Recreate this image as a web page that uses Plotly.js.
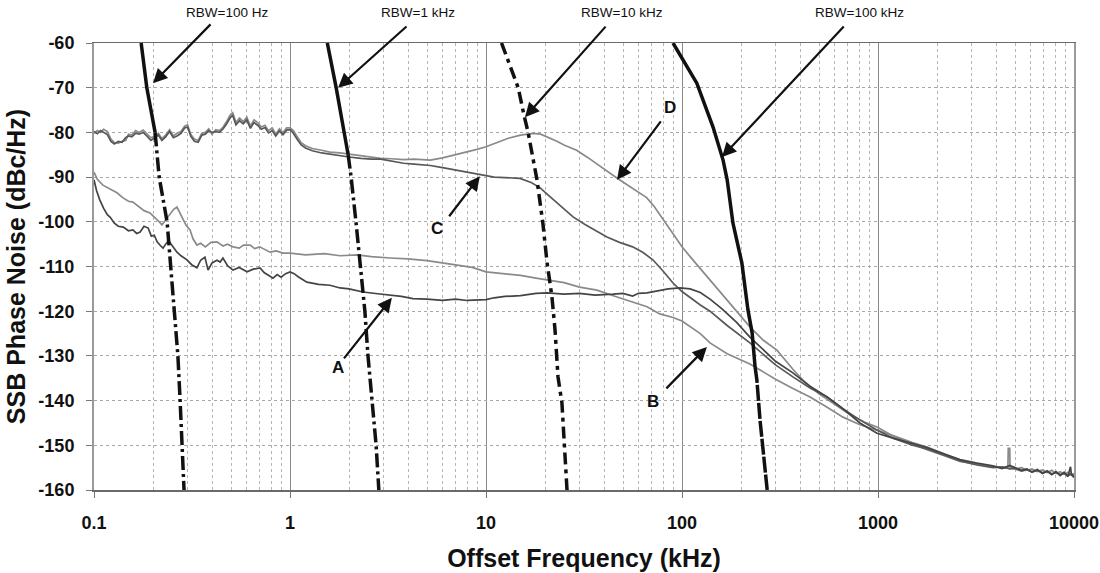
<!DOCTYPE html>
<html>
<head>
<meta charset="utf-8">
<script src="https://cdn.plot.ly/plotly-3.0.1.min.js"></script>
<style>html,body{margin:0;padding:0;background:#fff;}#chart{width:1100px;height:573px;}</style>
</head>
<body>
<div id="chart"></div>
<script>
// ---------- Data (offset frequency in kHz, SSB phase noise in dBc/Hz) ----------
const xTickVals = [0.1, 1, 10, 100, 1000, 10000];
const xTickText = ['0.1', '1', '10', '100', '1000', '10000'];
const yTickVals = [-160, -150, -140, -130, -120, -110, -100, -90, -80, -70, -60];
const yTickText = ['-160', '-150', '-140', '-130', '-120', '-110', '-100', '-90', '-80', '-70', '-60'];

const curveA_x = [0.1,0.103,0.107,0.112,0.117,0.121,0.127,0.133,0.141,0.150,0.158,0.165,0.172,0.180,0.189,0.196,0.203,0.210,0.218,0.225,0.232,0.240,0.253,0.265,0.278,0.298,0.315,0.335,0.350,0.368,0.382,0.400,0.424,0.440,0.455,0.480,0.512,0.550,0.604,0.650,0.703,0.740,0.780,0.819,0.860,0.900,0.950,1.0,1.05,1.1,1.22,1.4,1.6,1.8,2.0,2.36,2.8,3.24,3.7,4.24,5,6,7,8,9.31,10,11,12.5,15,18,20.5,25,30,36,44.5,50,56,60,66.3,75,85,97.7,110,124,139,160,190,222,260,300,368,450,550,650,809,988,1193,1500,1778,2200,2620,3200,3860,4300,4700,5000,5400,5750,6100,6500,6900,7300,7700,8100,8500,8900,9300,9600,9700,10000];
const curveA_y = [-90.6,-93.0,-95.1,-97.0,-98.4,-99.0,-100.3,-101.0,-101.2,-102.0,-101.8,-102.6,-102.3,-101.0,-101.4,-103.2,-103.0,-104.5,-105.3,-105.9,-105.0,-104.2,-105.6,-106.8,-107.6,-108.5,-109.6,-110.3,-108.6,-107.9,-110.8,-109.2,-108.6,-109.0,-108.1,-109.8,-110.8,-110.2,-111.2,-110.6,-110.3,-111.4,-112.0,-112.6,-111.8,-112.4,-111.6,-111.2,-111.6,-112.3,-113.5,-114.0,-114.2,-114.8,-115.0,-115.7,-116.1,-116.4,-116.7,-117.2,-117.3,-117.6,-117.3,-117.6,-117.5,-117.4,-117.0,-116.7,-116.5,-116.0,-115.9,-116.2,-116.0,-116.4,-116.2,-116.0,-116.6,-116.0,-115.9,-115.5,-115.0,-114.8,-115.0,-115.8,-117.3,-119.5,-122.5,-125.8,-128.6,-131.2,-133.8,-136.8,-139.2,-141.5,-145.0,-147.3,-148.4,-149.6,-150.5,-152.0,-153.2,-154.0,-154.6,-155.2,-154.5,-155.0,-155.6,-155.3,-156.0,-155.4,-156.3,-155.8,-156.6,-155.9,-156.8,-156.0,-157.0,-154.8,-156.6,-157.2];

const curveB_x = [0.1,0.104,0.111,0.118,0.125,0.131,0.140,0.150,0.158,0.170,0.180,0.193,0.205,0.215,0.222,0.230,0.240,0.255,0.265,0.278,0.295,0.309,0.320,0.335,0.350,0.370,0.395,0.424,0.455,0.480,0.512,0.55,0.58,0.626,0.66,0.70,0.75,0.791,0.85,0.92,1.0,1.2,1.5,1.8,2.2,2.6,3.24,4,5,6,7,8.5,10,12,15,18,20.5,25,30,36.8,45,55,66.3,77,90,100,124,139,170,222,250,300,368,450,550,663,809,988,1193,1500,1778,2200,2620,3200,3860,4300,4700,5000,5400,5750,6100,6500,6900,7300,7700,8100,8500,8900,9300,9700,10000];
const curveB_y = [-88.9,-90.5,-91.8,-92.4,-93.0,-93.5,-94.6,-95.4,-95.6,-96.6,-97.5,-98.0,-99.0,-100.0,-100.7,-99.8,-98.5,-97.2,-96.7,-98.5,-100.8,-101.8,-103.8,-105.2,-104.8,-105.6,-104.6,-104.5,-105.4,-105.0,-105.6,-105.9,-105.2,-105.2,-106.0,-105.6,-106.3,-106.8,-106.5,-107.0,-107.0,-107.4,-107.1,-107.6,-107.4,-107.8,-108.1,-108.3,-108.7,-109.2,-109.6,-110.2,-111.2,-111.6,-112.0,-112.6,-113.0,-113.6,-114.6,-115.3,-116.6,-117.8,-119.0,-120.6,-121.4,-122.2,-125.0,-127.1,-129.5,-131.8,-133.2,-135.2,-137.3,-139.2,-141.5,-143.7,-145.4,-146.6,-147.8,-149.4,-150.4,-152.0,-153.3,-154.3,-154.8,-155.0,-154.7,-155.3,-155.8,-155.5,-155.9,-155.6,-156.1,-155.7,-156.4,-156.0,-156.5,-156.2,-156.7,-156.3,-157.0];

const curveC_x = [0.1,0.104,0.108,0.112,0.117,0.122,0.127,0.133,0.139,0.145,0.150,0.156,0.163,0.170,0.178,0.186,0.195,0.204,0.213,0.222,0.232,0.243,0.254,0.265,0.278,0.290,0.300,0.312,0.325,0.340,0.355,0.370,0.385,0.400,0.418,0.437,0.456,0.476,0.497,0.510,0.530,0.553,0.577,0.602,0.628,0.655,0.684,0.714,0.745,0.777,0.811,0.846,0.883,0.921,0.961,1.0,1.04,1.09,1.14,1.2,1.3,1.45,1.6,1.8,2.0,2.3,2.6,2.9,3.3,3.8,4.3,5.2,6,7,8,9,10,11,12.5,14.9,17,18.9,20.5,23,25.5,27.8,32,36.8,41.4,48,56,63,71,80,90,100,110,124,139,170,222,260,300,368,450,550,650,800,988,1193,1500,1778,2200,2620,3200,3860,4300,4700,5000,5400,5750,6100,6500,6900,7300,7700,8100,8500,8900,9300,9700,10000];
const curveC_y = [-79.8,-80.3,-79.6,-80.0,-80.5,-82.0,-82.6,-82.0,-82.2,-81.2,-80.8,-81.0,-80.2,-80.4,-80.0,-80.8,-81.8,-81.2,-80.6,-81.8,-81.0,-79.8,-81.2,-80.8,-80.2,-79.0,-78.8,-80.9,-82.0,-82.2,-80.6,-80.4,-79.6,-80.0,-79.8,-80.0,-79.2,-78.0,-76.6,-76.2,-78.3,-77.4,-78.1,-77.2,-79.1,-77.8,-78.4,-79.3,-78.9,-80.1,-79.6,-80.8,-79.7,-80.5,-79.5,-79.4,-80.2,-81.6,-82.8,-83.5,-84.1,-84.6,-84.9,-85.2,-85.5,-85.8,-86.0,-86.0,-86.5,-86.9,-87.1,-87.4,-87.9,-88.4,-88.9,-89.3,-89.7,-90.0,-90.1,-90.3,-91.2,-92.4,-93.8,-95.8,-97.5,-98.9,-100.6,-102.2,-103.4,-104.6,-105.6,-106.8,-108.5,-111.0,-113.7,-115.6,-117.0,-118.6,-120.0,-123.2,-127.1,-129.6,-132.0,-134.7,-137.2,-139.2,-141.6,-144.2,-146.6,-148.4,-150.0,-150.8,-152.3,-153.5,-154.4,-155.0,-154.8,-155.3,-155.1,-155.7,-155.4,-156.0,-155.6,-156.2,-155.8,-156.4,-156.0,-156.7,-156.2,-156.8,-156.4,-156.9];

const curveD_x = [0.1,0.104,0.108,0.112,0.117,0.122,0.127,0.133,0.139,0.145,0.150,0.156,0.163,0.170,0.178,0.186,0.195,0.204,0.213,0.222,0.232,0.243,0.254,0.265,0.278,0.290,0.300,0.312,0.325,0.340,0.355,0.370,0.385,0.400,0.418,0.437,0.456,0.476,0.497,0.510,0.530,0.553,0.577,0.602,0.628,0.655,0.684,0.714,0.745,0.777,0.811,0.846,0.883,0.921,0.961,1.0,1.04,1.09,1.14,1.2,1.3,1.45,1.6,1.8,2.0,2.3,2.6,2.9,3.3,3.8,4.3,5.2,6,7,8,9,10,11.5,13,15,17.4,19,21,23,25,29,33,37,42,46.5,52,58,66,72,80,90,100,115,139,170,222,260,305,368,414,500,589,700,850,988,1200,1500,1778,2200,2620,3200,3860,4300,4600,4620,4700,4720,5000,5400,5750,6100,6500,6900,7300,7700,8100,8500,8900,9300,9700,10000];
const curveD_y = [-80.2,-79.6,-80.0,-79.3,-79.8,-81.5,-82.3,-82.4,-82.0,-81.8,-80.4,-80.6,-79.6,-80.0,-79.5,-80.4,-81.2,-80.9,-80.2,-81.4,-80.6,-79.4,-80.8,-80.2,-79.8,-78.6,-78.3,-80.5,-81.5,-81.8,-80.2,-80.0,-79.2,-80.4,-79.4,-79.6,-78.8,-77.5,-76.0,-75.6,-77.8,-76.8,-77.6,-76.6,-78.6,-77.2,-77.8,-78.8,-78.4,-79.6,-79.0,-80.4,-79.2,-80.1,-79.0,-79.0,-79.6,-81.0,-82.3,-83.0,-83.6,-84.0,-84.4,-84.6,-84.9,-85.3,-85.6,-85.8,-85.9,-86.1,-86.0,-86.2,-85.7,-85.0,-84.3,-83.8,-83.2,-82.2,-81.3,-80.6,-80.2,-80.4,-81.2,-82.0,-82.8,-84.0,-85.6,-87.2,-88.9,-90.2,-91.6,-93.0,-94.6,-96.5,-99.5,-102.8,-105.6,-108.8,-113.0,-117.5,-123.5,-126.5,-128.7,-133.0,-135.4,-138.5,-140.5,-142.8,-144.8,-145.9,-148.0,-149.8,-151.0,-152.4,-153.6,-154.2,-154.9,-155.0,-155.1,-150.7,-150.7,-155.2,-155.3,-155.0,-155.6,-155.3,-155.9,-155.5,-156.1,-155.6,-156.3,-155.9,-156.5,-156.1,-156.6,-156.3,-156.8];

// Analyzer RBW limit curves
const rbw100_x = [0.174,0.186,0.205,0.215,0.236,0.247,0.256,0.268,0.275,0.281,0.288];
const rbw100_y = [-60,-70,-80,-90,-100,-110,-120,-130,-140,-150,-160];
const rbw1k_x  = [1.55,1.72,1.98,2.05,2.17,2.28,2.41,2.50,2.62,2.75,2.84];
const rbw1k_y  = [-60,-70,-85,-90,-100,-110,-120,-130,-140,-150,-160];
const rbw10k_x = [12.0,14.6,15.6,16.4,18.2,19.5,20.5,21.7,22.5,23.3,24.4,25.2,25.9];
const rbw10k_y = [-60,-70,-76,-80,-90.6,-100.3,-109.2,-116.8,-124.2,-134.7,-140.5,-151.7,-160];
const rbw100k_x = [90,101,119,144,162,170,182,202,217,228,236,241,250,259,272];
const rbw100k_y = [-60,-63.8,-69,-78.8,-86.2,-90.6,-100.3,-109.2,-119.7,-124.9,-132.5,-135.4,-144.3,-151.7,-160];
const rbwSolidTo = [2, 2, 0, 10];   // index where the solid part ends

// Annotation texts
const rbwLabels = ['RBW=100 Hz', 'RBW=1 kHz', 'RBW=10 kHz', 'RBW=100 kHz'];
const curveLabels = ['A', 'B', 'C', 'D'];

// ---------- Build ----------
const FONT = 'Liberation Sans, Arial, Helvetica, sans-serif';
const B = function (arr) { return arr.map(function (t) { return '<b>' + t + '</b>'; }); };
const traces = [];
function meas(x, y, color, w) {
  traces.push({x: x, y: y, type: 'scatter', mode: 'lines', line: {color: color, width: w}, hoverinfo: 'skip'});
}
meas(curveB_x, curveB_y, '#8a8a8a', 1.7);
meas(curveD_x, curveD_y, '#8a8a8a', 1.7);
meas(curveC_x, curveC_y, '#585858', 1.7);
meas(curveA_x, curveA_y, '#444444', 1.7);

const rbwSets = [[rbw100_x, rbw100_y], [rbw1k_x, rbw1k_y], [rbw10k_x, rbw10k_y], [rbw100k_x, rbw100k_y]];
const rbwDash = ['14px,4px,3px,4px', '14px,4px,3px,4px', '12px,5px,4px,5px', '16px,2px'];
rbwSets.forEach(function (s, i) {
  const k = rbwSolidTo[i];
  if (k > 0) {
    traces.push({x: s[0].slice(0, k + 1), y: s[1].slice(0, k + 1), type: 'scatter', mode: 'lines',
      line: {color: '#111', width: 3.5}, hoverinfo: 'skip'});
  }
  traces.push({x: s[0].slice(k), y: s[1].slice(k), type: 'scatter', mode: 'lines',
    line: {color: '#111', width: 3.5, dash: rbwDash[i]}, hoverinfo: 'skip'});
});

const minorVals = [];
for (let d = -1; d < 4; d++) for (let k = 2; k <= 9; k++) minorVals.push(k * Math.pow(10, d));

const L = Math.log10;
function arrow(hx, hy, tx, ty) {
  return {x: L(hx), y: hy, ax: L(tx), ay: ty, xref: 'x', yref: 'y', axref: 'x', ayref: 'y',
    text: '', showarrow: true, arrowhead: 2, arrowsize: 1.3, arrowwidth: 2.2, arrowcolor: '#111', standoff: 0, startstandoff: 0};
}
function label(x, y, t, size, bold) {
  return {x: L(x), y: y, xref: 'x', yref: 'y', text: bold ? '<b>' + t + '</b>' : t, showarrow: false,
    font: {family: FONT, size: size, color: '#111'}, xanchor: 'center', yanchor: 'middle'};
}
function topLabel(x, t) {
  return {x: L(x), y: 1.069, xref: 'x', yref: 'paper', text: t, showarrow: false,
    font: {family: FONT, size: 13.5, color: '#111'}, xanchor: 'center', yanchor: 'middle'};
}
const annotations = [
  topLabel(0.477, rbwLabels[0]),
  topLabel(4.5, rbwLabels[1]),
  topLabel(49.4, rbwLabels[2]),
  topLabel(809, rbwLabels[3]),
  arrow(0.2, -69, 0.4, -55.5),
  arrow(1.76, -70, 4.0, -56),
  arrow(15.8, -76.6, 41.4, -56),
  arrow(160, -85.5, 680, -56),
  label(1.76, -132.7, curveLabels[0], 17, true),
  arrow(3.31, -117.0, 1.86, -130.9),
  label(71, -140.3, curveLabels[1], 17, true),
  arrow(134, -128, 81.8, -137.6),
  label(5.6, -101.4, curveLabels[2], 17, true),
  arrow(9.3, -89.8, 6.4, -99.1),
  label(87, -74.5, curveLabels[3], 17, true),
  arrow(46.6, -90.6, 79, -77.2)
];

const layout = {
  width: 1100, height: 573,
  margin: {l: 94, r: 26, t: 43, b: 83},
  paper_bgcolor: '#fff', plot_bgcolor: '#fff',
  showlegend: false,
  font: {family: FONT, color: '#111'},
  xaxis: {
    type: 'log', range: [-1, 4], tickmode: 'array', tickvals: xTickVals, ticktext: B(xTickText),
    showgrid: true, gridcolor: '#8a8a8a', gridwidth: 1,
    minor: {tickmode: 'array', tickvals: minorVals, showgrid: true, gridcolor: '#b5b5b5', griddash: 'dot', gridwidth: 1, ticks: ''},
    ticks: 'outside', ticklen: 6, tickcolor: '#777', ticklabelstandoff: 10,
    showline: true, linecolor: '#6a6a6a', linewidth: 1.5, mirror: true, zeroline: false,
    tickfont: {family: FONT, size: 18, color: '#111'},
    title: {text: '<b>Offset Frequency (kHz)</b>', font: {family: FONT, size: 25, color: '#111'}, standoff: 17}
  },
  yaxis: {
    range: [-160, -60], tickmode: 'array', tickvals: yTickVals, ticktext: B(yTickText),
    showgrid: true, gridcolor: '#a8a8a8', griddash: 'dot', gridwidth: 1,
    ticks: 'outside', ticklen: 6, tickcolor: '#777', ticklabelstandoff: 8,
    showline: true, linecolor: '#9a9a9a', linewidth: 2, mirror: true, zeroline: false,
    tickfont: {family: FONT, size: 18, color: '#111'},
    title: {text: '<b>SSB Phase Noise (dBc/Hz)</b>', font: {family: FONT, size: 25, color: '#111'}, standoff: 6}
  },
  annotations: annotations
};

Plotly.newPlot('chart', traces, layout, {staticPlot: true, displayModeBar: false});
</script>
</body>
</html>
